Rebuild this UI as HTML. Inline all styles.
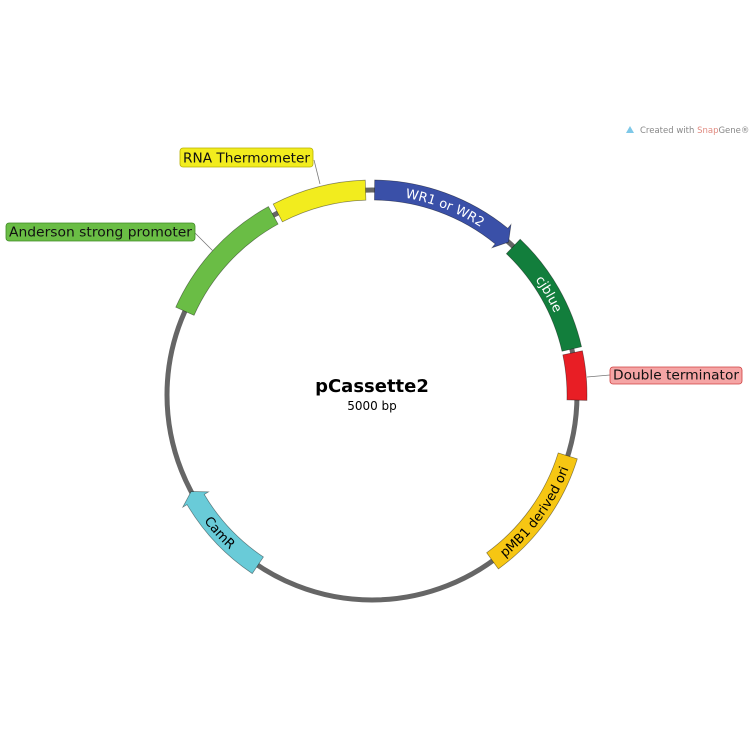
<!DOCTYPE html>
<html><head><meta charset="utf-8">
<style>
html,body{margin:0;padding:0;background:#fff;}
svg{display:block;font-family:"DejaVu Sans","Liberation Sans",sans-serif;}
</style></head>
<body>
<svg id="map" width="750" height="750" viewBox="0 0 750 750" xmlns="http://www.w3.org/2000/svg">
  <rect width="750" height="750" fill="#fff"/>
  <g>
    <path d="M626 133 L630 126 L634 133 Z" fill="#7ec8e8"/>
    <text x="640" y="133" font-size="8.5" fill="#888">Created with <tspan fill="#e08a80">Snap</tspan>Gene®</text>
  </g>
  <circle cx="372" cy="395" r="205" fill="none" stroke="#666" stroke-width="5"/>
  <g id="features"></g>
  <g id="labels"></g>
  <text x="372" y="392" text-anchor="middle" font-size="18" font-weight="bold" fill="#000">pCassette2</text>
  <text x="372" y="410" text-anchor="middle" font-size="12" fill="#000">5000 bp</text>
</svg>
<script>
const total = 5000;
const names = ["WR1 or WR2","cjblue","Double terminator","pMB1 derived ori","CamR","Anderson strong promoter","RNA Thermometer"];
const starts = [10, 605, 1085, 1490, 2970, 4085, 4620];
const ends = [580, 1070, 1270, 2000, 3360, 4600, 4975];
const directions = [1, 0, 0, 0, 1, 0, 0];
const colors = ["#3a50a8","#127e3c","#e81e25","#f6c613","#69cbd8","#6abd45","#f2ec1e"];
const textColors = ["#fff","#fff","#000","#000","#000","#000","#000"];
const showInside = [true,true,false,true,true,false,false];

const NS="http://www.w3.org/2000/svg";
const cx=372, cy=395, R=205, W=10;
function ang(bp){return bp/total*2*Math.PI;}
function pt(a,r){return [cx+r*Math.sin(a), cy-r*Math.cos(a)];}
const fg=document.getElementById('features');
for(let i=0;i<names.length;i++){
  let a0=ang(starts[i]), a1=ang(ends[i]);
  const head=0.045;
  let d;
  const ro=R+W, ri=R-W, large=(a1-a0)>Math.PI?1:0;
  if(directions[i]===1){
    const ab=a1-head;
    const p1=pt(a0,ro),p2=pt(ab,ro),p3=pt(ab,ro+5),tip=pt(a1,R),p4=pt(ab,ri-5),p5=pt(ab,ri),p6=pt(a0,ri);
    d=`M${p1} A${ro},${ro} 0 0 1 ${p2} L${p3} L${tip} L${p4} L${p5} A${ri},${ri} 0 0 0 ${p6} Z`;
  } else if(directions[i]===-1){
    const ab=a0+head;
    const p1=pt(ab,ro),p2=pt(a1,ro),p3=pt(a1,ri),p4=pt(ab,ri),p5=pt(ab,ri-5),tip=pt(a0,R),p6=pt(ab,ro+5);
    d=`M${p1} A${ro},${ro} 0 0 1 ${p2} L${p3} A${ri},${ri} 0 0 0 ${p4} L${p5} L${tip} L${p6} Z`;
  } else {
    const p1=pt(a0,ro),p2=pt(a1,ro),p3=pt(a1,ri),p4=pt(a0,ri);
    d=`M${p1} A${ro},${ro} 0 ${large} 1 ${p2} L${p3} A${ri},${ri} 0 ${large} 0 ${p4} Z`;
  }
  const p=document.createElementNS(NS,'path');
  p.setAttribute('d',d);p.setAttribute('fill',colors[i]);p.setAttribute('stroke','rgba(0,0,0,0.45)');p.setAttribute('stroke-width','0.7');
  
  
  fg.appendChild(p);
  if(showInside[i]){
    const mid=(a0+a1)/2;
    const bottom = Math.cos(mid)<0;
    const rr = bottom? R+5 : R-5;
    const id='tp'+i;
    const tp=document.createElementNS(NS,'path');
    let q0,q1,dd;
    if(!bottom){q0=pt(a0,rr);q1=pt(a1,rr);dd=`M${q0} A${rr},${rr} 0 0 1 ${q1}`;}
    else {q0=pt(a1,rr);q1=pt(a0,rr);dd=`M${q0} A${rr},${rr} 0 0 0 ${q1}`;}
    tp.setAttribute('d',dd);tp.setAttribute('id',id);tp.setAttribute('fill','none');
    fg.appendChild(tp);
    const t=document.createElementNS(NS,'text');
    t.setAttribute('font-size','13');t.setAttribute('fill',textColors[i]);
    
    
    const tpath=document.createElementNS(NS,'textPath');
    tpath.setAttribute('href','#'+id);tpath.setAttribute('startOffset','50%');tpath.setAttribute('text-anchor','middle');
    tpath.textContent=names[i];
    t.appendChild(tpath);fg.appendChild(t);
  }
}
const lg=document.getElementById('labels');
const callouts=[
 {i:6,x:180,y:148,w:133,h:19,lx1:314,ly1:160,lx2:320,ly2:184,fill:"#f2ec1e",stroke:"#b8b000"},
 {i:5,x:6,y:223,w:189,h:18,lx1:195,ly1:233,lx2:213,ly2:251,fill:"#6abd45",stroke:"#3e8a25"},
 {i:2,x:610,y:367,w:132,h:17,lx1:587,ly1:377,lx2:610,ly2:375,fill:"#f5a5a5",stroke:"#d04040"}
];
callouts.forEach(c=>{
  const l=document.createElementNS(NS,'line');
  l.setAttribute('x1',c.lx1);l.setAttribute('y1',c.ly1);l.setAttribute('x2',c.lx2);l.setAttribute('y2',c.ly2);
  l.setAttribute('stroke','#777');l.setAttribute('stroke-width','0.8');
  
  
  lg.appendChild(l);
  const r=document.createElementNS(NS,'rect');
  r.setAttribute('x',c.x);r.setAttribute('y',c.y);r.setAttribute('width',c.w);r.setAttribute('height',c.h);r.setAttribute('rx','3');
  r.setAttribute('fill',c.fill);r.setAttribute('stroke',c.stroke);r.setAttribute('stroke-width','0.8');
  
  
  lg.appendChild(r);
  const t=document.createElementNS(NS,'text');
  t.setAttribute('x',c.x+c.w/2);t.setAttribute('y',c.y+c.h-4.5);t.setAttribute('text-anchor','middle');
  t.setAttribute('font-size','13');t.setAttribute('fill','#111');
  t.setAttribute('textLength',c.w-6);t.setAttribute('lengthAdjust','spacingAndGlyphs');
  
  
  t.textContent=names[c.i];
  lg.appendChild(t);
});
</script>
</body></html>
